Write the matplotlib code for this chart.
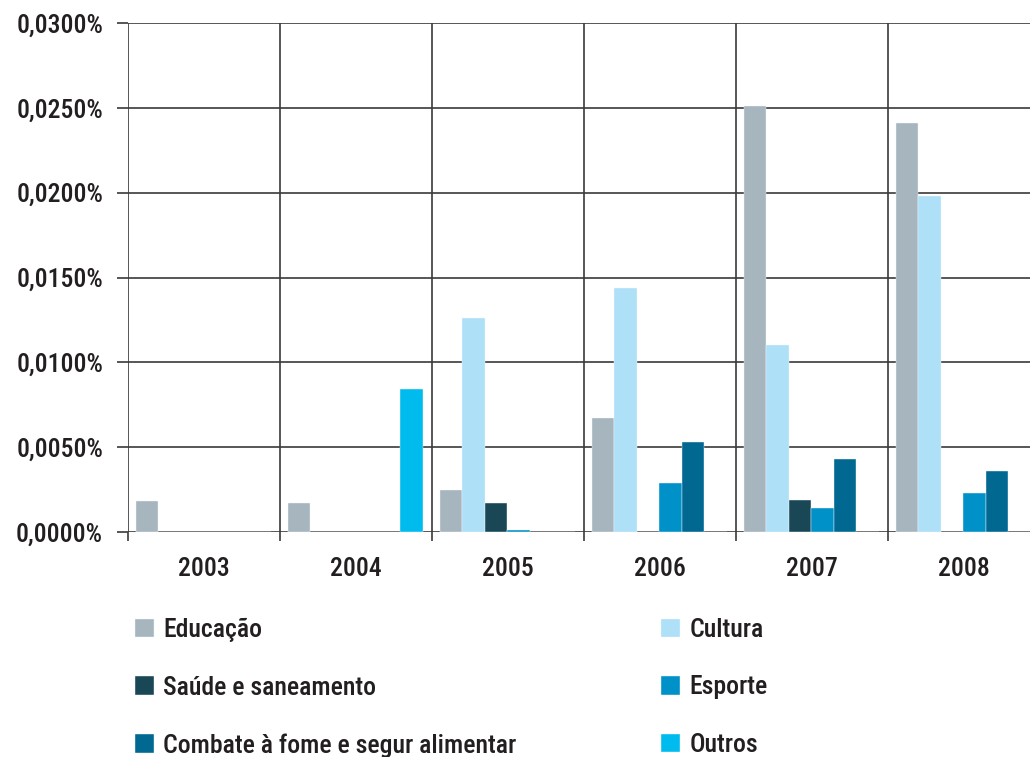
import numpy as np
import matplotlib.pyplot as plt
from matplotlib.patches import Patch
from matplotlib.ticker import FixedLocator, FuncFormatter
from matplotlib import font_manager

# condensed face if available, else Roboto
names = {f.name for f in font_manager.fontManager.ttflist}
fams = [f for f in ['Roboto Condensed', 'Liberation Sans Narrow', 'Roboto'] if f in names]
plt.rcParams['font.family'] = fams + ['DejaVu Sans']
plt.rcParams['font.weight'] = 'medium'

# --- Data (percent of GDP) ---
anos = ['2003', '2004', '2005', '2006', '2007', '2008']
educacao = [0.0018, 0.0017, 0.0025, 0.0067, 0.0251, 0.0241]
cultura  = [0.0, 0.0, 0.0126, 0.0144, 0.0110, 0.0198]
saude    = [0.0, 0.0, 0.0017, 0.0, 0.0019, 0.0]
esporte  = [0.0, 0.0, 0.0001, 0.0029, 0.0014, 0.0023]
combate  = [0.0, 0.0, 0.0, 0.0053, 0.0043, 0.0036]
outros   = [0.0, 0.0084, 0.0, 0.0, 0.0, 0.0]

series = [
    ('Educação', educacao, '#a7b5bf'),
    ('Cultura', cultura, '#aee0f8'),
    ('Saúde e saneamento', saude, '#1a4756'),
    ('Esporte', esporte, '#0091c8'),
    ('Combate à fome e segur alimentar', combate, '#006891'),
    ('Outros', outros, '#00bbee'),
]

fig = plt.figure(figsize=(10.30, 7.57), dpi=100)
ax = fig.add_axes([128 / 1030, 225 / 757, 912 / 1030, 509 / 757])

x = np.arange(len(anos))
w = 0.148
for i, (name, vals, color) in enumerate(series):
    offs = (i - 2.5) * w - 0.005
    ax.bar(x + offs, vals, width=w, color=color, edgecolor='#f4f8fa',
           linewidth=0.3, zorder=3)

ax.set_xlim(-0.5, len(anos) - 0.5)
ax.set_ylim(0, 0.03)

# grid: horizontal at y ticks, vertical at group boundaries
ax.set_yticks(np.arange(0, 0.0301, 0.005))
ax.yaxis.set_major_formatter(FuncFormatter(lambda v, p: f'{v:.4f}%'.replace('.', ',')))
ax.set_xticks(x)
ax.set_xticklabels(anos)
ax.xaxis.set_minor_locator(FixedLocator(np.arange(-0.5, len(anos), 1.0)))

gc = '#3a3a3a'
ax.grid(axis='y', which='major', color=gc, linewidth=1.2, zorder=1)
ax.grid(axis='x', which='minor', color=gc, linewidth=1.2, zorder=1)
ax.grid(axis='x', which='major', visible=False)
for s in ax.spines.values():
    s.set_visible(False)

tc = '#231f20'
fs = 18.5
ax.tick_params(axis='y', length=8, width=1.2, color=gc, pad=10, labelsize=fs,
               labelcolor=tc)
ax.tick_params(axis='x', which='major', length=0, pad=18, labelsize=fs,
               labelcolor=tc)
ax.tick_params(axis='x', which='minor', length=6.5, width=1.2, color=gc)

# --- Legend in two columns ---
handles = [Patch(facecolor=c, edgecolor='#f4f8fa', linewidth=0.3, label=n) for n, _, c in series]
leg_kw = dict(frameon=False, prop={'size': fs, 'weight': 'medium'},
              handlelength=0.72, handleheight=0.72,
              handletextpad=0.38, labelspacing=1.3, borderaxespad=0, borderpad=0,
              labelcolor=tc)
fig.legend(handles=handles[0::2], loc='upper left',
           bbox_to_anchor=(135 / 1030, 1 - 618 / 757), **leg_kw)
fig.legend(handles=handles[1::2], loc='upper left',
           bbox_to_anchor=(661 / 1030, 1 - 618 / 757), **leg_kw)

plt.savefig('out.png', dpi=100)
